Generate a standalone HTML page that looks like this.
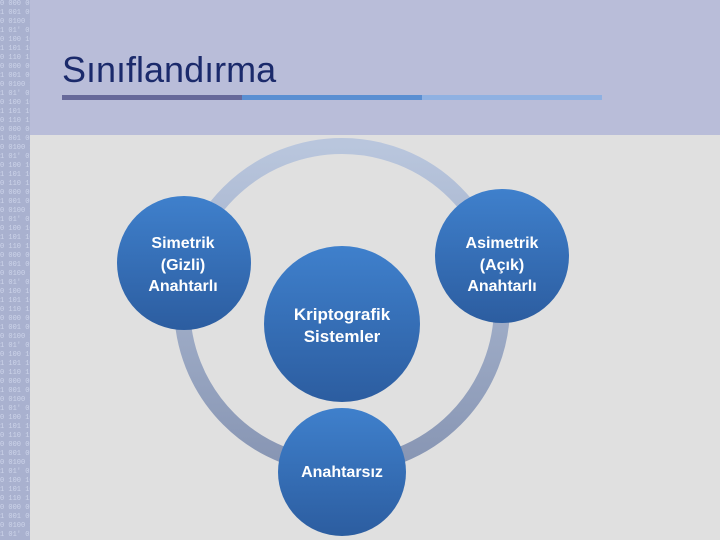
<!DOCTYPE html>
<html><head><meta charset="utf-8"><style>
body{margin:0;width:720px;height:540px;overflow:hidden;background:#e0e0e0;font-family:"Liberation Sans",sans-serif;position:relative}
.hdr{position:absolute;left:0;top:0;width:720px;height:135px;background:#b9bdd9}
.side{position:absolute;left:0;top:0;width:30px;height:540px;background:#a9b1cf;color:#cdd4ea;font-size:7px;line-height:9px;overflow:hidden;white-space:nowrap;font-family:"Liberation Mono",monospace}
.title{position:absolute;left:62px;top:49px;font-size:36px;color:#1b2a6b}
.bar{position:absolute;top:95px;height:5px}
</style></head><body>
<div class="hdr"></div>
<div class="side">
0 000 00<br>1 001 00<br>0 0100 1<br>1 01' 01<br>0 100 10<br>1 101 10<br>0 110 11<br>0 000 00<br>1 001 00<br>0 0100 1<br>1 01' 01<br>0 100 10<br>1 101 10<br>0 110 11<br>0 000 00<br>1 001 00<br>0 0100 1<br>1 01' 01<br>0 100 10<br>1 101 10<br>0 110 11<br>0 000 00<br>1 001 00<br>0 0100 1<br>1 01' 01<br>0 100 10<br>1 101 10<br>0 110 11<br>0 000 00<br>1 001 00<br>0 0100 1<br>1 01' 01<br>0 100 10<br>1 101 10<br>0 110 11<br>0 000 00<br>1 001 00<br>0 0100 1<br>1 01' 01<br>0 100 10<br>1 101 10<br>0 110 11<br>0 000 00<br>1 001 00<br>0 0100 1<br>1 01' 01<br>0 100 10<br>1 101 10<br>0 110 11<br>0 000 00<br>1 001 00<br>0 0100 1<br>1 01' 01<br>0 100 10<br>1 101 10<br>0 110 11<br>0 000 00<br>1 001 00<br>0 0100 1<br>1 01' 01
</div>
<div class="title">Sınıflandırma</div>
<div class="bar" style="left:62px;width:180px;background:#67699a"></div>
<div class="bar" style="left:242px;width:180px;background:#5a8fd2"></div>
<div class="bar" style="left:422px;width:180px;background:#8fb1e2"></div>
<svg width="720" height="540" style="position:absolute;left:0;top:0">
<defs>
<linearGradient id="rg" x1="0" y1="0" x2="0" y2="1"><stop offset="0" stop-color="#b9c6dd"/><stop offset="1" stop-color="#8795b3"/></linearGradient>
<linearGradient id="cg" x1="0" y1="0" x2="0" y2="1"><stop offset="0" stop-color="#3f80cc"/><stop offset="1" stop-color="#2c5da0"/></linearGradient>
</defs>
<circle cx="342" cy="306" r="160" fill="none" stroke="url(#rg)" stroke-width="16"/>
<g fill="url(#cg)">
<circle cx="184" cy="263" r="67"/>
<circle cx="502" cy="256" r="67"/>
<circle cx="342" cy="324" r="78"/>
<circle cx="342" cy="472" r="64"/>
</g>
<g fill="#fff" font-family="Liberation Sans, sans-serif" font-weight="bold" text-anchor="middle" font-size="16">
<text x="183" y="248">Simetrik</text><text x="183" y="270">(Gizli)</text><text x="183" y="291">Anahtarlı</text>
<text x="502" y="248">Asimetrik</text><text x="502" y="270">(Açık)</text><text x="502" y="291">Anahtarlı</text>
<text x="342" y="320" font-size="17">Kriptografik</text><text x="342" y="342" font-size="17">Sistemler</text>
<text x="342" y="477">Anahtarsız</text>
</g>
</svg>
</body></html>
